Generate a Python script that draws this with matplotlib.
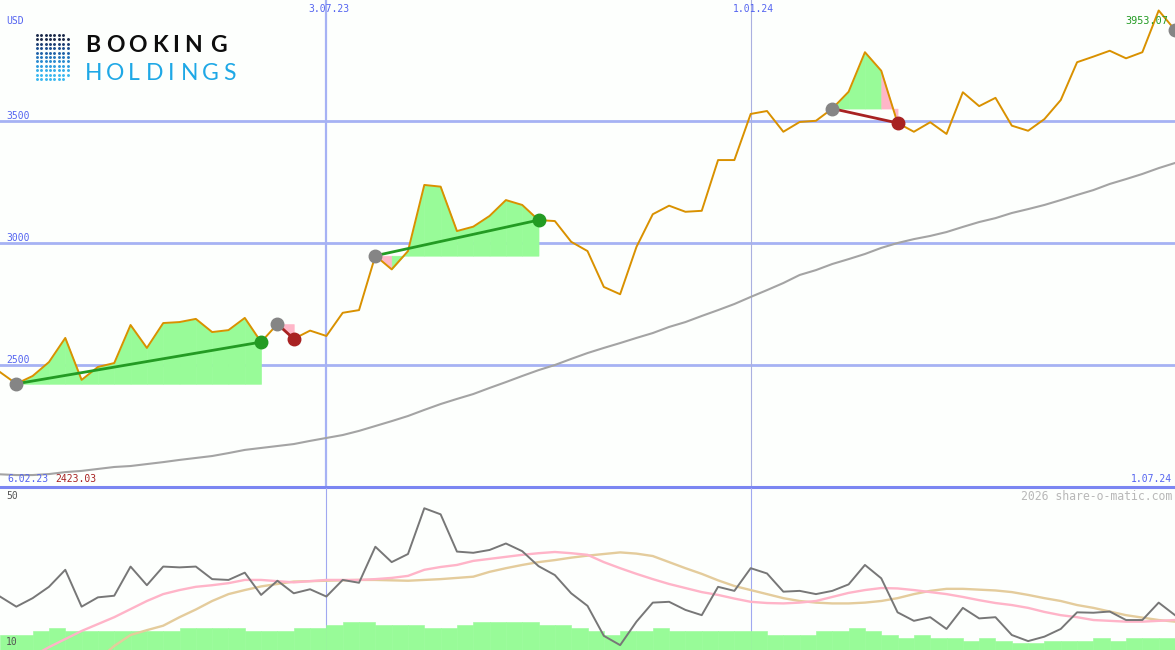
import numpy as np
import matplotlib
matplotlib.use("Agg")
from matplotlib import pyplot

# weekly closes, Booking Holdings (USD), week 0 .. 72
close = [2471, 2423.03, 2455, 2512, 2611, 2439, 2492, 2508, 2664, 2570,
         2672, 2676, 2689, 2635, 2643, 2693, 2594, 2668, 2607, 2641,
         2619, 2714, 2725, 2948, 2892, 2967, 3238, 3231, 3049, 3067,
         3111, 3176, 3156, 3094, 3090, 3005, 2967, 2820, 2790, 2984,
         3118, 3153, 3128, 3132, 3340, 3340, 3529, 3541, 3456, 3496,
         3501, 3551, 3620, 3782, 3706, 3492, 3456, 3495, 3447, 3618,
         3561, 3595, 3481, 3460, 3508, 3586, 3741, 3764, 3788, 3757,
         3782, 3953.07, 3873]

# long moving average (grey line)
moving_avg = [2052, 2049, 2049, 2053, 2061, 2066, 2074, 2082, 2086, 2094,
              2102, 2111, 2119, 2127, 2139, 2152, 2160, 2168, 2176, 2189,
              2201, 2213, 2230, 2250, 2270, 2291, 2316, 2340, 2361, 2381,
              2406, 2430, 2455, 2479, 2500, 2525, 2549, 2570, 2590, 2611,
              2631, 2656, 2676, 2701, 2725, 2750, 2779, 2807, 2836, 2869,
              2889, 2914, 2934, 2955, 2980, 3000, 3016, 3029, 3045, 3066,
              3086, 3102, 3123, 3139, 3156, 3176, 3197, 3217, 3242, 3262,
              3283, 3307, 3328]

# oscillator panel
osc = [23.2, 20.7, 22.8, 25.6, 29.8, 20.7, 23.0, 23.4, 30.6, 26.0,
       30.6, 30.4, 30.6, 27.5, 27.3, 29.1, 23.6, 27.1, 24.0, 25.0,
       23.2, 27.3, 26.6, 35.5, 31.7, 33.7, 45.0, 43.5, 34.3, 34.0,
       34.7, 36.3, 34.4, 30.7, 28.5, 24.0, 20.9, 13.5, 11.2, 17.0,
       21.7, 21.9, 19.9, 18.6, 25.6, 24.6, 30.2, 28.9, 24.4, 24.6,
       23.8, 24.6, 26.2, 31.0, 27.7, 19.3, 17.2, 18.1, 15.2, 20.4,
       17.8, 18.1, 13.7, 12.2, 13.3, 15.2, 19.3, 19.2, 19.5, 17.4,
       17.4, 21.7, 18.6]
osc_fast_start = 2
osc_fast = [8.5, 10.7, 12.7, 14.7, 16.4, 18.1, 20.1, 22.1, 23.8, 24.8,
            25.6, 26.0, 26.5, 27.3, 27.3, 27.0, 26.7, 27.0, 27.3, 27.3,
            27.3, 27.5, 27.8, 28.3, 29.8, 30.5, 31.0, 32.0, 32.5, 33.0,
            33.5, 33.9, 34.2, 33.9, 33.5, 31.7, 30.2, 28.8, 27.5, 26.3,
            25.3, 24.3, 23.6, 22.7, 21.9, 21.6, 21.5, 21.7, 22.1, 23.1,
            24.1, 24.8, 25.3, 25.2, 24.8, 24.3, 23.8, 23.1, 22.3, 21.6,
            21.1, 20.4, 19.4, 18.6, 18.1, 17.4, 17.2, 17.0, 17.0, 17.2,
            17.4]
osc_slow_start = 6
osc_slow = [7.5, 11.0, 13.7, 14.9, 16.0, 18.1, 20.0, 22.1, 23.8, 24.8,
            25.7, 26.3, 26.9, 27.0, 27.1, 27.2, 27.3, 27.3, 27.2, 27.1,
            27.3, 27.5, 27.8, 28.1, 29.3, 30.2, 31.0, 31.7, 32.2, 32.8,
            33.3, 33.7, 34.1, 33.8, 33.2, 31.7, 30.2, 28.8, 27.2, 25.8,
            24.8, 23.8, 22.8, 22.1, 21.7, 21.5, 21.5, 21.7, 22.1, 22.8,
            23.8, 24.6, 25.1, 25.1, 24.9, 24.7, 24.3, 23.6, 22.8, 22.1,
            21.1, 20.4, 19.5, 18.6, 18.0, 17.4, 17.0]
volume = [3.7, 3.7, 4.7, 5.5, 4.7, 4.7, 4.7, 4.7, 4.7, 4.7,
          4.7, 5.5, 5.5, 5.5, 5.5, 4.7, 4.7, 4.7, 5.5, 5.5,
          6.2, 6.9, 6.9, 6.2, 6.2, 6.2, 5.5, 5.5, 6.2, 6.9,
          6.9, 6.9, 6.9, 6.2, 6.2, 5.5, 4.7, 3.7, 4.7, 4.7,
          5.5, 4.7, 4.7, 4.7, 4.7, 4.7, 4.7, 3.7, 3.7, 3.7,
          4.7, 4.7, 5.5, 4.7, 3.7, 3.0, 3.7, 3.0, 3.0, 2.2,
          3.0, 2.2, 1.65, 1.65, 2.2, 2.2, 2.2, 3.0, 2.2, 3.0,
          3.0, 3.0]

# signals: (start week, end week)
signals = [(1, 16), (17, 18), (23, 33), (51, 55)]
open_signal = 72

grid_prices = [2500, 3000, 3500]
date_weeks = [20, 46]
date_labels = ["3.07.23", "1.01.24"]

W, H = 1175, 650
bg = "#fdfffd"
blue_txt = "#5464f0"
grid_col = "#a6b2f4"
orange = "#d99100"
green = "#239b23"
red = "#a82222"
pale_green = "#98fb98"
pink = "#ffb6c8"

fig = pyplot.figure(figsize=(W / 100, H / 100), dpi=100, facecolor=bg)
ax1 = fig.add_axes([0, (H - 487) / H, 1, 487 / H])
ax2 = fig.add_axes([0, 0, 1, 162 / H])
for ax in (ax1, ax2):
    ax.set_facecolor(bg)
    ax.set_axis_off()
    ax.set_xlim(0, 72)

weeks = np.arange(len(close))
close = np.array(close)

# ---- upper panel ----
ax1.set_ylim(2000, 3996)
for p in grid_prices:
    ax1.axhline(p, color=grid_col, lw=2, zorder=1)
ax1.axvline(date_weeks[0], color=grid_col, lw=1.6, zorder=1)
ax1.axvline(date_weeks[1], color="#aab0e0", lw=0.8, zorder=1)
ax1.axhline(2000, color="#7b86f2", lw=2.2, zorder=6, clip_on=False)

ax1.plot(weeks, moving_avg, color="#a4a4a4", lw=1.5, zorder=2)

for s, e in signals:
    base = close[s]
    for k in range(s, e):
        col = pale_green if close[k + 1] > base else pink
        ax1.fill_between([k, k + 1], [close[k], close[k + 1]], base,
                         facecolor=col, edgecolor=col, lw=0.4, zorder=2)

ax1.plot(weeks, close, color=orange, lw=1.4, zorder=3)

for s, e in signals:
    up = close[e] > close[s]
    col = green if up else red
    ax1.plot([s, e], [close[s], close[e]], color=col, lw=2, zorder=4)
    ax1.plot(s, close[s], "o", color="#858585", ms=9, zorder=5)
    ax1.plot(e, close[e], "o", color=col, ms=9, zorder=5)
ax1.plot(open_signal, close[open_signal], "o", color="#858585", ms=9, zorder=5, clip_on=False)

# ---- lower panel ----
ax2.set_ylim(10, 50)
for d in date_weeks:
    ax2.axvline(d, color="#a0a8f0", lw=0.8, zorder=1)
ax2.bar(weeks[:len(volume)], volume, width=1, align="edge", bottom=10,
        color=pale_green, edgecolor=pale_green, lw=0.4, zorder=2)
ax2.plot(weeks[osc_slow_start:], osc_slow, color="#e4cc9c", lw=1.7, zorder=3)
ax2.plot(weeks[osc_fast_start:], osc_fast, color="#ffb4c8", lw=1.7, zorder=3)
ax2.plot(weeks, osc, color="#777777", lw=1.4, zorder=4)

# ---- texts, placed in pixels ----
def ftext(x, y, s, **kw):
    kw.setdefault("family", "DejaVu Sans Mono")
    kw.setdefault("fontsize", 7)
    kw.setdefault("va", "center")
    fig.text(x / W, 1 - y / H, s, **kw)

ftext(6, 21, "USD", color=blue_txt)
for p, y in zip(grid_prices, [360, 238, 116]):
    ftext(6, y, str(p), color=blue_txt)
for d, lab in zip(date_weeks, date_labels):
    ftext(d * W / 72 + 3, 9, lab, color=blue_txt, ha="center")
ftext(7, 479, "6.02.23", color=blue_txt)
ftext(55, 479, "%.2f" % close.min(), color=red)
ftext(1172, 479, "1.07.24", color=blue_txt, ha="right")
ftext(1168, 21, "%.2f" % close.max(), color=green, ha="right", fontsize=7.3)
ftext(6, 496, "50", color="#555555")
ftext(6, 642, "10", color="#555555")
ftext(1172, 496, "2026 share-o-matic.com", color="#b8b8b8", ha="right", fontsize=8.3)

# ---- logo ----
logo_ax = fig.add_axes([0, 0, 1, 1], facecolor="none")
logo_ax.set_axis_off()
logo_ax.set_xlim(0, W)
logo_ax.set_ylim(H, 0)
dot_cols = ["#1b2a4a", "#1b2a4a", "#1d3f73", "#1d4f8f", "#2263a8", "#2676bd",
            "#2a8ad0", "#2f9ddf", "#35aeea", "#3ab8f0", "#3ab8f0"]
for r in range(11):
    ncol = 7 if r in (0, 10) else 8
    xs = 36.7 + 4.4 * np.arange(ncol)
    logo_ax.scatter(xs, np.full(ncol, 35 + 4.4 * r), s=4.5, color=dot_cols[r], lw=0)
for ch, cx in zip("BOOKING", [93, 115, 137.5, 159.5, 175.5, 193, 218]):
    logo_ax.text(cx, 45.5, ch, family="Lato", fontweight="bold", fontsize=16.5,
                 color="#0d0d0d", ha="center", va="center")
for ch, cx in zip("HOLDINGS", [93.5, 115, 134, 155, 171.5, 189.5, 210.5, 229]):
    logo_ax.text(cx, 73, ch, family="Lato", fontweight="normal", fontsize=16.5,
                 color="#1ea8e6", ha="center", va="center")

fig.savefig("out.png", dpi=100, facecolor=bg)
